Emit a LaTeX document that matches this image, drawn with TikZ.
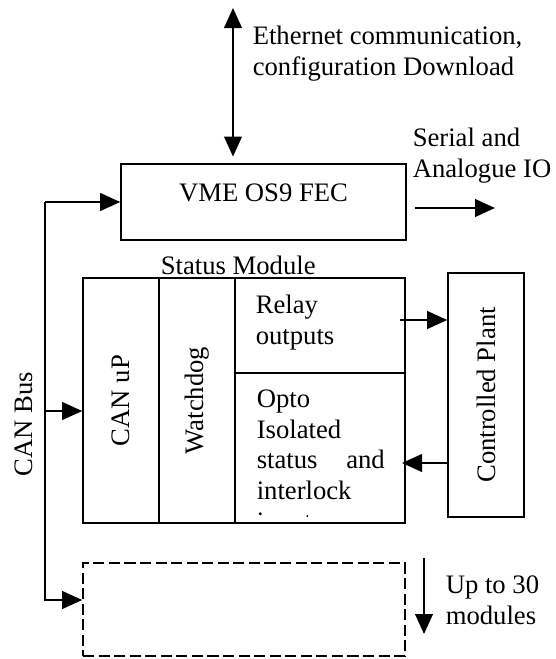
\documentclass[tikz,border=0pt]{standalone}
\usepackage{fontspec}
\setmainfont{Liberation Serif}
\usetikzlibrary{arrows.meta,fit}

\tikzset{
  >={Triangle[length=9pt,width=8pt]},
  box/.style={draw, inner sep=0pt},
  lbl/.style={inner sep=0pt, align=left},
  dashbox/.style={draw, inner sep=0pt, dash pattern=on 5pt off 2pt},
}

\begin{document}
\begin{tikzpicture}[x=0.45pt, y=-0.45pt, line width=0.7pt, font=\fontsize{12}{13.8}\selectfont]
    \useasboundingbox (0,0) rectangle (555,659);
    % Front end computer
    \node[box, fit={(121,164) (406,240)}] (vme) {};
    \node[anchor=base] (vmetxt) at (263.5,201) {VME OS9 FEC};
    % Status module with its columns
    \node[box, fit={(83,278) (405,523)}] (stat) {};
    \draw (159,278) -- (159,523);
    \draw (235,278) -- (235,523);
    \draw (235,373) -- (405,373);
    \node[lbl, anchor=base west] (stlbl) at (160,274) {Status Module};
    \node[rotate=90] (canup) at (121,400.5) {CAN uP};
    \node[rotate=90] (wdog) at (197,400.5) {Watchdog};
    % (base of a multi-line node = its last line)
    \node[lbl, anchor=base west] (relay) at (255,344) {Relay\\outputs};
    \begin{scope}
      \clip (236,374) rectangle (404,516);
      \node[lbl, anchor=base west] (opto) at (256,530)
        {Opto\\Isolated\\\makebox[57.6pt][s]{status and}\\interlock\\inputs};
    \end{scope}
    % Plant
    \node[box, fit={(448,273) (524,517)}] (plant) {};
    \node[rotate=90] (planttxt) at (plant.center) {Controlled Plant};
    % Further modules
    \node[dashbox, fit={(83,563) (405,656)}] (more) {};
    % Labels
    \node[lbl, anchor=base west] (eth) at (252,75) {Ethernet communication,\\configuration Download};
    \node[lbl, anchor=base west] (ser) at (412,177) {Serial and\\Analogue IO};
    \node[lbl, anchor=base west] (upto) at (445,624) {Up to 30\\modules};
    \node[rotate=90] (canbus) at (24,424) {CAN Bus};
    % Ethernet link
    \coordinate (ethtop) at (233,8);
    \draw[<->, shorten >=3pt] (ethtop) -- (vme.north -| ethtop);
    % Serial IO
    \coordinate (serA) at (415,208);
    \coordinate (serB) at (495,208);
    \draw[->] (serA) -- (serB);
    % Plant connections
    \coordinate (relayout) at (400,320);
    \draw[->] (relayout) -- (relayout -| plant.west);
    \coordinate (optoin) at (402,463);
    \draw[->] (optoin -| plant.west) -- (optoin);
    % CAN bus
    \coordinate (bustop) at (45,202);
    \coordinate (busmid) at (45,411);
    \coordinate (busbot) at (45,600);
    \draw[->] (bustop) -- (bustop -| vme.west);
    \draw[->] (busmid) -- (busmid -| stat.west);
    \draw[->] (bustop) -- (busbot) -- (busbot -| more.west);
    % More modules
    \coordinate (upA) at (424,558);
    \coordinate (upB) at (424,634);
    \draw[->] (upA) -- (upB);
\end{tikzpicture}
\end{document}
